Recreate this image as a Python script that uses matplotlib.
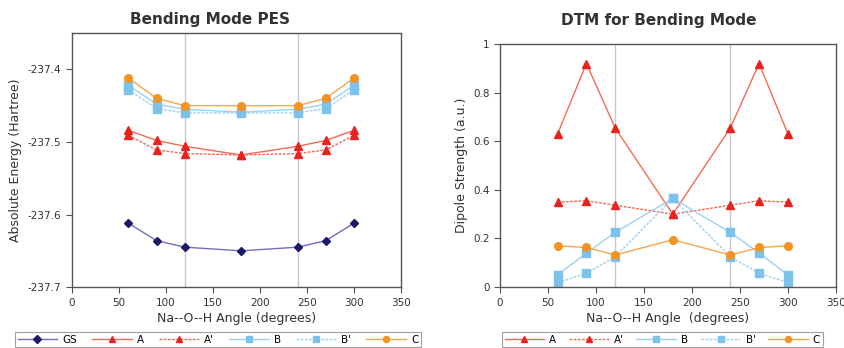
import matplotlib
matplotlib.use("Agg")
import matplotlib.pyplot as plt

angles = [60, 90, 120, 180, 240, 270, 300]

# PES (Hartree)
pes_gs = [-237.612, -237.636, -237.645, -237.650, -237.645, -237.636, -237.612]
pes_a = [-237.484, -237.498, -237.506, -237.518, -237.506, -237.498, -237.484]
pes_ap = [-237.491, -237.511, -237.516, -237.518, -237.516, -237.511, -237.491]
pes_b = [-237.422, -237.448, -237.455, -237.459, -237.455, -237.448, -237.422]
pes_bp = [-237.428, -237.454, -237.460, -237.460, -237.460, -237.454, -237.428]
pes_c = [-237.412, -237.440, -237.450, -237.450, -237.450, -237.440, -237.412]

# DTM (a.u.)
dtm_a = [0.63, 0.92, 0.655, 0.30, 0.655, 0.92, 0.63]
dtm_ap = [0.35, 0.355, 0.337, 0.30, 0.337, 0.355, 0.35]
dtm_b = [0.05, 0.14, 0.225, 0.365, 0.225, 0.14, 0.05]
dtm_bp = [0.018, 0.057, 0.125, 0.365, 0.125, 0.057, 0.018]
dtm_c = [0.17, 0.163, 0.132, 0.195, 0.132, 0.163, 0.17]

plt.rcParams['font.family'] = ['DejaVu Sans']

fig = plt.figure(figsize=(8.44, 3.48), dpi=100)
ax1 = fig.add_axes([0.0853, 0.175, 0.3898, 0.730])
ax2 = fig.add_axes([0.5924, 0.175, 0.398, 0.6983])

GS_LINE = '#7070b8'; GS_MK = '#1a1a66'
A_LINE = '#f26a55'; A_MK = '#e8221e'
B_LINE = '#9fd0ef'; B_MK = '#7cc2ea'
C_LINE = '#f7a64a'; C_MK = '#f39322'

styles = {
    'GS': dict(color=GS_LINE, marker='D', mfc=GS_MK, mec=GS_MK, ms=4.5, ls='-', lw=1.0),
    'A': dict(color=A_LINE, marker='^', mfc=A_MK, mec=A_MK, ms=5.5, ls='-', lw=1.0),
    "A'": dict(color=A_LINE, marker='^', mfc=A_MK, mec=A_MK, ms=5.5, ls=(0, (2, 1)), lw=1.0),
    'B': dict(color=B_LINE, marker='s', mfc=B_MK, mec=B_MK, ms=5.5, ls='-', lw=1.0),
    "B'": dict(color=B_LINE, marker='s', mfc=B_MK, mec=B_MK, ms=5.5, ls=(0, (2, 1)), lw=1.0),
    'C': dict(color=C_LINE, marker='o', mfc=C_MK, mec=C_MK, ms=5.5, ls='-', lw=1.0),
}

for name, vals in [('GS', pes_gs), ('A', pes_a), ("A'", pes_ap), ('B', pes_b), ("B'", pes_bp), ('C', pes_c)]:
    ax1.plot(angles, vals, label=name, **styles[name])
for name, vals in [('A', dtm_a), ("A'", dtm_ap), ('B', dtm_b), ("B'", dtm_bp), ('C', dtm_c)]:
    ax2.plot(angles, vals, label=name, **styles[name])

ax1.set_xlim(0, 350)
ax1.set_ylim(-237.7, -237.35)
ax1.set_yticks([-237.7, -237.6, -237.5, -237.4])
ax1.set_yticklabels(['-237.7', '-237.6', '-237.5', '-237.4'])
ax2.set_xlim(0, 350)
ax2.set_ylim(0, 1)
ax2.set_yticks([0, 0.2, 0.4, 0.6, 0.8, 1])
ax2.set_yticklabels(['0', '0.2', '0.4', '0.6', '0.8', '1'])

for ax in (ax1, ax2):
    ax.set_xticks([0, 50, 100, 150, 200, 250, 300, 350])
    for xv in (120, 240):
        ax.axvline(xv, color='#c8c8c8', lw=1.0, zorder=0)
    for s in ax.spines.values():
        s.set_color('#555555')
        s.set_linewidth(1.0)
    ax.tick_params(direction='out', length=4, width=0.8, colors='#555555', labelsize=7.5, labelcolor='#333333', top=False, right=False)

ax1.set_xlabel('Na--O--H Angle (degrees)', fontsize=9, color='#333333', labelpad=3)
ax1.set_ylabel('Absolute Energy (Hartree)', fontsize=9, color='#333333')
ax2.set_xlabel('Na--O--H Angle  (degrees)', fontsize=9, color='#333333', labelpad=3)
ax2.set_ylabel('Dipole Strength (a.u.)', fontsize=9, color='#333333')

fig.text(0.249, 0.945, 'Bending Mode PES', ha='center', va='center', fontsize=11, fontweight='bold', color='#333333')
fig.text(0.780, 0.940, 'DTM for Bending Mode', ha='center', va='center', fontsize=11, fontweight='bold', color='#333333')

common = dict(loc='upper left', fontsize=7.5, frameon=True, fancybox=False,
              handletextpad=0.5, borderpad=0.25, borderaxespad=0,
              edgecolor='#888888', markerscale=0.8)
leg1 = fig.legend(*ax1.get_legend_handles_labels(), bbox_to_anchor=(15/844, 1 - 332/348), ncol=6,
                  handlelength=3.8, columnspacing=1.45, **common)
leg1.get_frame().set_linewidth(0.8)
leg2 = fig.legend(*ax2.get_legend_handles_labels(), bbox_to_anchor=(502/844, 1 - 332/348), ncol=5,
                  handlelength=3.8, columnspacing=1.2, **common)
leg2.get_frame().set_linewidth(0.8)

fig.savefig('out.png', dpi=100)
